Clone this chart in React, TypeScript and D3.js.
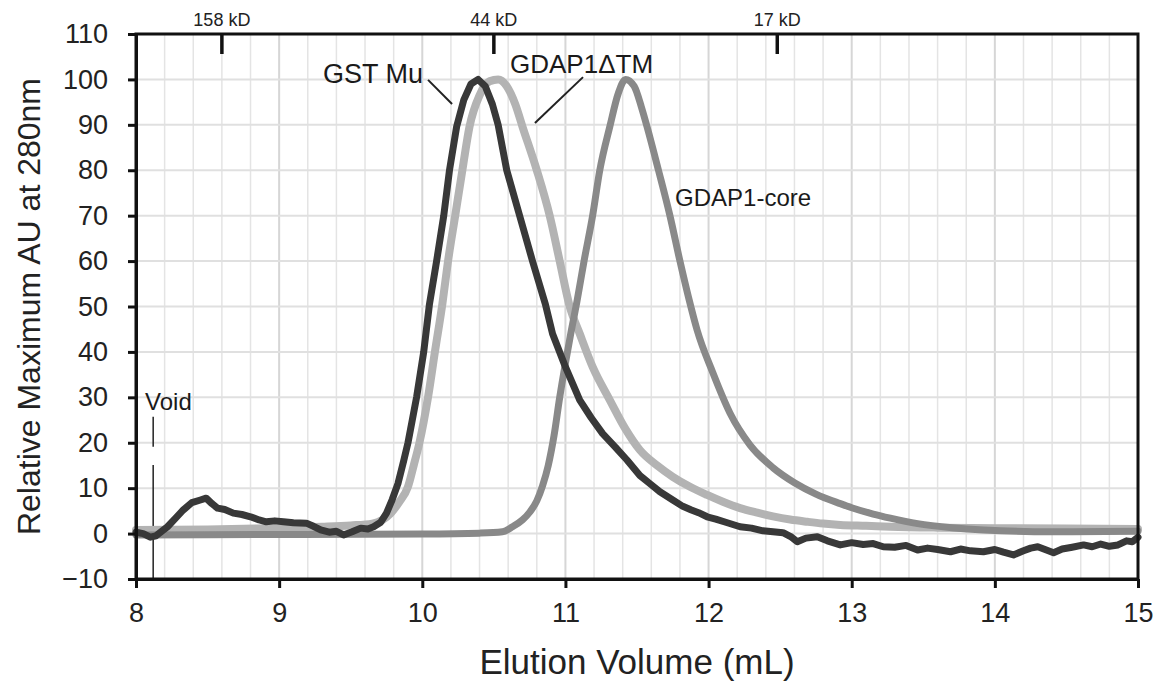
import React, { useEffect, useRef } from 'react'
import {
  select,
  scaleLinear,
  line,
  curveMonotoneX,
  curveLinear,
  axisLeft,
  axisBottom,
  range
} from 'd3'

const WIDTH = 1168
const HEIGHT = 686
const margin = { top: 34, right: 30, bottom: 107, left: 136 }
const FONT = '"Liberation Sans", Arial, sans-serif'

// [elution volume (mL), relative AU]
const gstMu: [number, number][] = [
  [8.0, 0.3], [8.05, 0.0], [8.1, -0.8], [8.14, -0.5], [8.18, 0.5], [8.22, 1.5],
  [8.28, 3.5], [8.33, 5.2], [8.39, 6.8], [8.45, 7.4], [8.49, 7.8], [8.53, 6.6],
  [8.57, 5.6], [8.62, 5.3], [8.68, 4.5], [8.74, 4.2], [8.8, 3.7], [8.86, 3.0],
  [8.91, 2.6], [8.97, 2.8], [9.03, 2.6], [9.1, 2.4], [9.19, 2.3], [9.24, 1.6],
  [9.29, 0.8], [9.35, 0.3], [9.4, 0.5], [9.45, -0.3], [9.51, 0.4], [9.57, 1.2],
  [9.62, 1.0], [9.66, 1.5], [9.71, 2.5], [9.75, 4.5], [9.79, 7.5], [9.83, 11],
  [9.87, 16], [9.9, 20], [9.93, 25], [9.96, 30], [10.01, 40], [10.05, 50.5],
  [10.1, 60], [10.15, 70], [10.19, 80], [10.24, 89.6], [10.29, 95.5], [10.34, 99],
  [10.39, 100], [10.44, 98.5], [10.49, 94.5], [10.53, 90], [10.59, 80], [10.68, 70],
  [10.77, 60], [10.86, 50.5], [10.91, 44], [11.0, 36.7], [11.1, 29.4], [11.18, 25.5],
  [11.26, 22], [11.35, 19], [11.43, 16.2], [11.52, 12.8], [11.59, 11], [11.66, 9.2],
  [11.75, 7.4], [11.82, 6.0], [11.88, 5.2], [11.93, 4.6], [11.99, 3.7], [12.05, 3.2],
  [12.12, 2.5], [12.22, 1.5], [12.3, 1.2], [12.38, 0.6], [12.45, 0.4], [12.52, 0.2],
  [12.58, -0.8], [12.62, -1.8], [12.68, -1.0], [12.76, -0.7], [12.83, -1.6], [12.92, -2.5],
  [13.0, -2.0], [13.08, -2.4], [13.15, -2.2], [13.22, -2.9], [13.3, -3.0], [13.38, -2.6],
  [13.46, -3.6], [13.53, -3.2], [13.6, -3.5], [13.69, -4.0], [13.76, -3.4], [13.83, -3.8],
  [13.92, -4.0], [14.0, -3.5], [14.06, -4.1], [14.13, -4.7], [14.2, -3.8], [14.25, -3.2],
  [14.3, -2.9], [14.36, -3.6], [14.41, -4.2], [14.47, -3.4], [14.54, -3.0], [14.62, -2.5],
  [14.68, -2.9], [14.74, -2.3], [14.8, -2.8], [14.86, -2.5], [14.92, -1.6], [14.96, -1.8],
  [15.0, -0.8]
]

const gdap1dTM: [number, number][] = [
  [8.0, 0.8], [8.5, 0.9], [9.0, 1.2], [9.3, 1.5], [9.5, 1.8], [9.65, 2.2],
  [9.72, 3.0], [9.78, 4.5], [9.84, 7.0], [9.9, 10.3], [9.94, 15], [9.98, 20],
  [10.04, 30], [10.09, 40.4], [10.14, 50.5], [10.18, 60], [10.23, 70], [10.28, 80],
  [10.33, 89.6], [10.4, 96.5], [10.47, 99.6], [10.53, 100], [10.59, 98.5], [10.65, 94.5],
  [10.7, 89.6], [10.8, 80], [10.89, 70], [10.96, 60], [11.03, 50], [11.1, 44],
  [11.19, 36.7], [11.31, 29.4], [11.42, 23], [11.52, 18.4], [11.64, 15.0], [11.75, 12.5],
  [11.87, 10.3], [11.99, 8.5], [12.1, 7.0], [12.22, 5.6], [12.34, 4.6], [12.45, 3.8],
  [12.57, 3.1], [12.69, 2.6], [12.8, 2.2], [12.92, 1.9], [13.1, 1.7], [13.27, 1.5],
  [13.6, 1.3], [14.0, 1.2], [14.5, 1.1], [15.0, 1.0]
]

const gdap1Core: [number, number][] = [
  [8.0, -0.3], [9.0, -0.2], [10.0, -0.1], [10.4, 0.1], [10.56, 0.4], [10.63, 1.5],
  [10.7, 3.0], [10.75, 4.7], [10.8, 7.2], [10.84, 10.5], [10.88, 15], [10.92, 21.5],
  [10.96, 30], [11.0, 37.5], [11.04, 44.5], [11.08, 51], [11.13, 60], [11.19, 70],
  [11.24, 80], [11.31, 89.6], [11.37, 97], [11.42, 100], [11.48, 98.5], [11.53, 94],
  [11.57, 89.6], [11.65, 80], [11.73, 70], [11.8, 60], [11.86, 52], [11.92, 44.8],
  [12.03, 35.4], [12.15, 26.5], [12.29, 19.5], [12.45, 14.5], [12.6, 11.2], [12.75, 8.7],
  [12.92, 6.6], [13.0, 5.7], [13.15, 4.3], [13.27, 3.4], [13.46, 2.2], [13.7, 1.3],
  [13.92, 0.8], [14.4, 0.4], [15.0, 0.5]
]

const xTicks = [8, 9, 10, 11, 12, 13, 14, 15]
const yTicks = [-10, 0, 10, 20, 30, 40, 50, 60, 70, 80, 90, 100, 110]
const kdVolumes = [8.6, 10.5, 12.48]
const kdLabels = ['158 kD', '44 kD', '17 kD']

const App = () => {
  const svgRef = useRef<SVGSVGElement>(null)

  useEffect(() => {
    const svg = select(svgRef.current)
    svg.selectAll('*').remove()

    const xScale = scaleLinear()
      .domain([8, 15])
      .range([margin.left, WIDTH - margin.right])
    const yScale = scaleLinear()
      .domain([-10, 110])
      .range([HEIGHT - margin.bottom, margin.top])

    const x0 = margin.left
    const x1 = WIDTH - margin.right
    const y0 = HEIGHT - margin.bottom
    const y1 = margin.top

    // grid: 0.2 mL verticals, 10 AU horizontals
    const grid = svg.append('g')
    grid.selectAll('.vgrid')
      .data(range(0, 36).map(i => 8 + i * 0.2))
      .join('line')
      .attr('x1', d => xScale(d)).attr('x2', d => xScale(d))
      .attr('y1', y1).attr('y2', y0)
      .attr('stroke', (d, i) => i % 5 === 0 ? '#d6d6d6' : '#e4e4e4')
      .attr('stroke-width', (d, i) => i % 5 === 0 ? 2 : 1.5)
    grid.selectAll('.hgrid')
      .data(yTicks)
      .join('line')
      .attr('x1', x0).attr('x2', x1)
      .attr('y1', d => yScale(d)).attr('y2', d => yScale(d))
      .attr('stroke', '#e0e0e0')
      .attr('stroke-width', 2)

    // void marker
    const voidVol = 8.12
    svg.append('line')
      .attr('x1', xScale(voidVol)).attr('x2', xScale(voidVol))
      .attr('y1', yScale(25.7)).attr('y2', yScale(19.1))
      .attr('stroke', '#222').attr('stroke-width', 1.5)
    svg.append('line')
      .attr('x1', xScale(voidVol)).attr('x2', xScale(voidVol))
      .attr('y1', yScale(15.1)).attr('y2', yScale(-10))
      .attr('stroke', '#222').attr('stroke-width', 1.5)

    // traces
    const smooth = line<[number, number]>()
      .x(d => xScale(d[0]))
      .y(d => yScale(d[1]))
      .curve(curveMonotoneX)
    const rough = line<[number, number]>()
      .x(d => xScale(d[0]))
      .y(d => yScale(d[1]))
      .curve(curveLinear)

    const traces = [
      { data: gdap1dTM, color: '#b3b3b3', width: 8, gen: smooth },
      { data: gdap1Core, color: '#898989', width: 7, gen: smooth },
      { data: gstMu, color: '#383838', width: 7, gen: rough }
    ]
    traces.forEach(t => {
      svg.append('path')
        .attr('d', t.gen(t.data))
        .attr('fill', 'none')
        .attr('stroke', t.color)
        .attr('stroke-width', t.width)
        .attr('stroke-linejoin', 'round')
        .attr('stroke-linecap', 'round')
    })

    // frame
    svg.append('rect')
      .attr('x', x0).attr('y', y1)
      .attr('width', x1 - x0).attr('height', y0 - y1)
      .attr('fill', 'none')
      .attr('stroke', '#111')
      .attr('stroke-width', 3)

    // axes
    const yAxis = axisLeft(yScale).tickValues(yTicks).tickSize(8).tickSizeOuter(0).tickPadding(20)
    const gy = svg.append('g').attr('transform', `translate(${x0},0)`).call(yAxis)
    const xAxis = axisBottom(xScale)
      .tickValues(xTicks)
      .tickFormat(d => String(d))
      .tickSize(9)
      .tickSizeOuter(0)
      .tickPadding(15)
    const gx = svg.append('g').attr('transform', `translate(0,${y0})`).call(xAxis)
    ;[gx, gy].forEach(g => {
      g.select('.domain').attr('stroke', '#111').attr('stroke-width', 3)
      g.selectAll('.tick line').attr('stroke', '#111').attr('stroke-width', 3)
      g.selectAll('.tick text')
        .attr('fill', '#222')
        .style('font-family', FONT)
        .style('font-size', '27px')
    })

    // kD markers along the top
    kdVolumes.forEach((v, i) => {
      svg.append('line')
        .attr('x1', xScale(v)).attr('x2', xScale(v))
        .attr('y1', y1).attr('y2', y1 + 20)
        .attr('stroke', '#111').attr('stroke-width', 3.5)
      svg.append('text')
        .attr('x', xScale(v)).attr('y', y1 - 8)
        .attr('text-anchor', 'middle')
        .attr('fill', '#222')
        .style('font-family', FONT)
        .style('font-size', '18px')
        .text(kdLabels[i])
    })

    // annotations
    const annotations = [
      { text: 'GST Mu', at: [9.306, 99.2], size: 27, leader: [[10.04, 99.9], [10.208, 94.6]] },
      { text: 'GDAP1\u0394TM', at: [10.613, 101.4], size: 26, leader: [[11.123, 100.5], [10.787, 90.4]] },
      { text: 'GDAP1-core', at: [11.766, 72.1], size: 24, leader: null },
      { text: 'Void', at: [8.063, 27.2], size: 24, leader: null }
    ]
    annotations.forEach(a => {
      svg.append('text')
        .attr('x', xScale(a.at[0])).attr('y', yScale(a.at[1]))
        .attr('fill', '#1a1a1a')
        .style('font-family', FONT)
        .style('font-size', `${a.size}px`)
        .text(a.text)
      if (a.leader) {
        svg.append('line')
          .attr('x1', xScale(a.leader[0][0])).attr('y1', yScale(a.leader[0][1]))
          .attr('x2', xScale(a.leader[1][0])).attr('y2', yScale(a.leader[1][1]))
          .attr('stroke', '#222').attr('stroke-width', 2)
      }
    })

    // axis titles
    svg.append('text')
      .attr('x', (x0 + x1) / 2).attr('y', 674)
      .attr('text-anchor', 'middle')
      .attr('fill', '#222')
      .style('font-family', FONT)
      .style('font-size', '35px')
      .text('Elution Volume (mL)')
    svg.append('text')
      .attr('transform', `translate(40,${(y0 + y1) / 2}) rotate(-90)`)
      .attr('text-anchor', 'middle')
      .attr('fill', '#222')
      .style('font-family', FONT)
      .style('font-size', '32px')
      .text('Relative Maximum AU at 280nm')
  }, [])

  return (
    <svg
      ref={svgRef}
      width={WIDTH}
      height={HEIGHT}
      style={{ position: 'absolute', left: 0, top: 0, background: '#fff' }}
    />
  )
}

export default App
